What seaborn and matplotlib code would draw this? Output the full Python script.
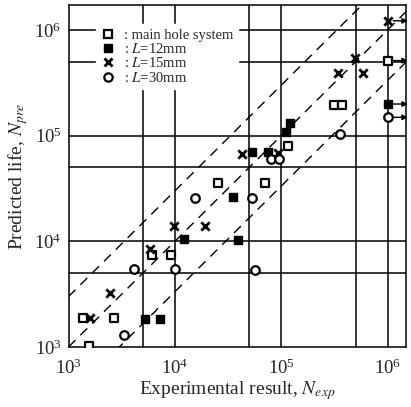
import numpy as np
import pandas as pd
import matplotlib
matplotlib.use("Agg")
import matplotlib.pyplot as plt
import seaborn as sns
from matplotlib.lines import Line2D

# ---------------- data ----------------
main_x = [1380, 2670, 1570, 6150, 9270, 25700, 70500, 116000, 310000, 372000, 1000000]
main_y = [1900, 1900, 1030, 7480, 7480, 35300, 35300, 79800, 194000, 194000, 512000]

l12_x = [5280, 7210, 12200, 39000, 35100, 52800, 74700, 111000, 122000, 1000000]
l12_y = [1830, 1830, 10500, 10400, 26400, 70600, 70600, 107000, 133000, 199000]

l15_x = [1590, 2450, 5890, 9820, 19300, 42300, 93300, 343000, 591000, 494000, 1000000]
l15_y = [1900, 3240, 8480, 13900, 13900, 66500, 68100, 392000, 392000, 543000, 1220000]

l30_x = [3310, 4140, 10100, 15600, 52800, 57100, 80200, 96000, 358000, 1000000]
l30_y = [1300, 5470, 5470, 25800, 25800, 5310, 60500, 60500, 103000, 149000]

# run-out points (arrows to the right)
runout_x = [1000000, 1000000, 1000000, 1000000]
runout_y = [1220000, 512000, 199000, 149000]

labels = [": main hole system", ": $L$=12mm", ": $L$=15mm", ": $L$=30mm"]
xticks = [1e3, 1e4, 1e5, 1e6]
yticks = [1e3, 1e4, 1e5, 1e6]
grid_vals = [5e3, 1e4, 5e4, 1e5, 5e5, 1e6]
band_factors = [3.0, 1.0, 1 / 3.0]

# ---------------- style ----------------
sns.set_style("white")
plt.rcParams["font.family"] = ["Liberation Serif", "DejaVu Serif"]
plt.rcParams["mathtext.fontset"] = "stix"
plt.rcParams["xtick.direction"] = "in"
plt.rcParams["ytick.direction"] = "in"

fig = plt.figure(figsize=(4.11, 4.07), dpi=100)
ax = fig.add_axes([0.1667, 0.1474, 0.8213, 0.8403])
ax.set_xscale("log")
ax.set_yscale("log")
ax.set_xlim(1e3, 1.49e6)
ax.set_ylim(1e3, 1.72e6)

# grid lines
for g in grid_vals:
    ax.axvline(g, color="black", lw=1.1, zorder=1)
    ax.axhline(g, color="black", lw=1.1, zorder=1)

# scatter band lines
xx = np.array([1e3, 2e6])
for f in band_factors:
    ax.plot(xx, xx * f, color="black", lw=1.0, ls=(0, (7, 5)), zorder=2)

# data
df = pd.concat([
    pd.DataFrame({"x": main_x, "y": main_y, "g": "main"}),
    pd.DataFrame({"x": l12_x, "y": l12_y, "g": "l12"}),
    pd.DataFrame({"x": l15_x, "y": l15_y, "g": "l15"}),
    pd.DataFrame({"x": l30_x, "y": l30_y, "g": "l30"}),
])

sns.scatterplot(data=df[df.g == "main"], x="x", y="y", marker="s", s=30,
                facecolor="white", edgecolor="black", linewidth=1.6, ax=ax, zorder=5)
sns.scatterplot(data=df[df.g == "l12"], x="x", y="y", marker="s", s=34,
                color="black", edgecolor="black", linewidth=1.0, ax=ax, zorder=5)
sns.scatterplot(data=df[df.g == "l15"], x="x", y="y", marker="x", s=36,
                color="black", linewidth=2.0, ax=ax, zorder=5)
sns.scatterplot(data=df[df.g == "l30"], x="x", y="y", marker="o", s=38,
                facecolor="white", edgecolor="black", linewidth=1.6, ax=ax, zorder=5)

# run-out arrows
for rx, ry in zip(runout_x, runout_y):
    ax.annotate("", xy=(1.55e6, ry), xytext=(rx, ry),
                arrowprops=dict(arrowstyle="-|>", color="black", lw=1.0,
                                mutation_scale=8, shrinkA=4, shrinkB=0),
                annotation_clip=False, zorder=6)

# legend
handles = [
    Line2D([], [], ls="none", marker="s", ms=5.5, mfc="white", mec="black", mew=1.6),
    Line2D([], [], ls="none", marker="s", ms=5.8, mfc="black", mec="black"),
    Line2D([], [], ls="none", marker="x", ms=6, mec="black", mew=2.0),
    Line2D([], [], ls="none", marker="o", ms=6, mfc="white", mec="black", mew=1.6),
]
leg = ax.legend(handles, labels, loc="upper left", bbox_to_anchor=(0.06, 0.965),
                frameon=True, fancybox=False, framealpha=1, edgecolor="white",
                fontsize=10.5, labelspacing=0.02, handlelength=1.0,
                handletextpad=0.6, borderpad=0.3)
leg.set_zorder(10)

# ticks
ax.set_xticks(xticks)
ax.set_yticks(yticks)
ax.tick_params(axis="x", which="major", labelsize=13.5, length=0, pad=8)
ax.tick_params(axis="y", which="major", labelsize=13.5, length=0, pad=5)
ax.tick_params(axis="both", which="minor", length=4, width=0.8)
ax.tick_params(top=False, right=False)
for sp in ax.spines.values():
    sp.set_linewidth(1.1)
    sp.set_color("black")

ax.set_xlabel("Experimental result, $N_{exp}$", fontsize=14, labelpad=1)
ax.set_ylabel("Predicted life, $N_{pre}$", fontsize=14, labelpad=3)

fig.savefig("out.png", dpi=100)
